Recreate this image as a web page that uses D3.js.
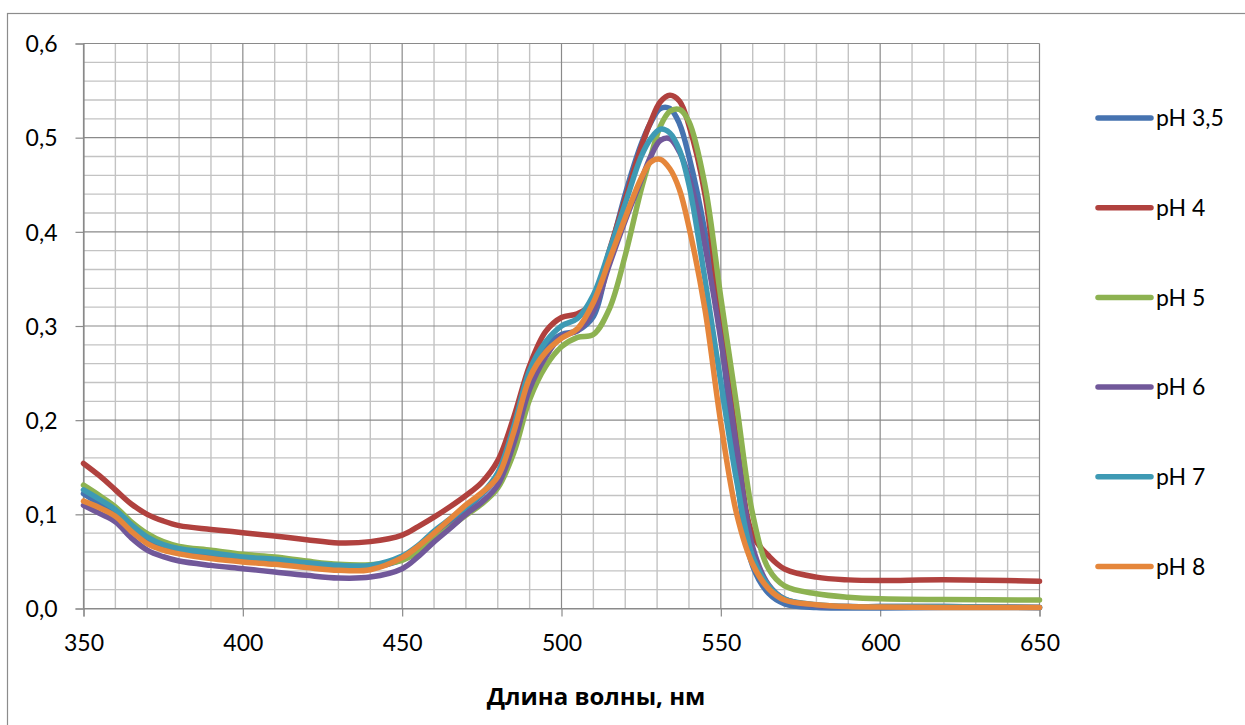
<!DOCTYPE html>
<html>
<head>
<meta charset="utf-8">
<script src="https://cdn.jsdelivr.net/npm/d3@7"></script>
<style>
  html, body { margin: 0; padding: 0; background: #ffffff; }
  svg { display: block; }
  .tick-label { font-family: Lato, "Open Sans", sans-serif; font-size: 23px; fill: #000; }
  .legend-label { font-family: Lato, "Open Sans", sans-serif; font-size: 23px; fill: #000; }
  .axis-title { font-family: "Open Sans", "Noto Sans", sans-serif; font-size: 24px; font-weight: bold; fill: #000; }
</style>
</head>
<body>
<svg id="chart" width="1245" height="725"></svg>
<script>
// Absorption spectra of the dye at different pH values
const wavelengths = [350, 355, 360, 365, 370, 375, 380, 390, 400, 410, 420, 430, 440, 450, 455, 460, 465, 470, 475, 480,
  485, 490, 495, 500, 505, 510, 515, 520, 525, 528, 531, 534, 537, 540, 545, 550, 555, 560, 565, 570,
  580, 590, 600, 620, 650];

const seriesNames = ["pH 3,5", "pH 4", "pH 5", "pH 6", "pH 7", "pH 8"];
const seriesColors = ["#4673B0", "#B0413E", "#8DB251", "#71589A", "#3E9AB4", "#E5863B"];

const absPH35 = [0.122, 0.111, 0.100, 0.085, 0.071, 0.064, 0.060, 0.056, 0.052, 0.049, 0.046, 0.043, 0.043, 0.052, 0.062, 0.076, 0.091, 0.106, 0.121, 0.140,
  0.183, 0.243, 0.278, 0.291, 0.295, 0.310, 0.375, 0.440, 0.493, 0.516, 0.531, 0.531, 0.515, 0.480, 0.400, 0.290, 0.140, 0.045, 0.016, 0.005,
  0.001, 0.0005, 0.0005, 0.001, 0.001];
const absPH4 = [0.154, 0.141, 0.126, 0.111, 0.100, 0.093, 0.088, 0.084, 0.0805, 0.077, 0.073, 0.0696, 0.071, 0.078, 0.087, 0.097, 0.108, 0.120, 0.134, 0.157,
  0.203, 0.258, 0.294, 0.309, 0.313, 0.325, 0.380, 0.435, 0.490, 0.517, 0.538, 0.545, 0.539, 0.513, 0.440, 0.305, 0.178, 0.078, 0.056, 0.042,
  0.0333, 0.0304, 0.0297, 0.0305, 0.029];
const absPH5 = [0.131, 0.120, 0.108, 0.092, 0.0795, 0.071, 0.066, 0.0618, 0.0575, 0.0547, 0.0504, 0.0469, 0.0465, 0.0512, 0.060, 0.073, 0.086, 0.099, 0.111, 0.128,
  0.165, 0.222, 0.257, 0.278, 0.288, 0.291, 0.318, 0.375, 0.445, 0.480, 0.512, 0.528, 0.530, 0.517, 0.450, 0.330, 0.215, 0.100, 0.042, 0.024,
  0.0156, 0.012, 0.0103, 0.0095, 0.009];
const absPH6 = [0.1096, 0.101, 0.092, 0.075, 0.062, 0.055, 0.0504, 0.0458, 0.0423, 0.0387, 0.0352, 0.0324, 0.0334, 0.0423, 0.055, 0.0706, 0.085, 0.100, 0.113, 0.131,
  0.175, 0.233, 0.267, 0.289, 0.295, 0.316, 0.365, 0.412, 0.455, 0.480, 0.497, 0.499, 0.485, 0.458, 0.385, 0.285, 0.170, 0.065, 0.025, 0.010,
  0.003, 0.002, 0.002, 0.002, 0.001];
const absPH7 = [0.126, 0.116, 0.105, 0.089, 0.0759, 0.068, 0.0635, 0.0593, 0.0547, 0.0522, 0.0487, 0.0458, 0.0458, 0.0558, 0.067, 0.0823, 0.095, 0.108, 0.122, 0.144,
  0.193, 0.253, 0.283, 0.300, 0.308, 0.333, 0.380, 0.430, 0.480, 0.499, 0.509, 0.505, 0.487, 0.450, 0.350, 0.240, 0.135, 0.055, 0.024, 0.010,
  0.004, 0.002, 0.002, 0.002, 0.001];
const absPH8 = [0.114, 0.107, 0.098, 0.082, 0.069, 0.062, 0.058, 0.053, 0.0494, 0.0469, 0.0434, 0.0405, 0.0412, 0.054, 0.066, 0.080, 0.095, 0.110, 0.123, 0.140,
  0.187, 0.245, 0.272, 0.287, 0.297, 0.325, 0.370, 0.415, 0.457, 0.474, 0.477, 0.467, 0.445, 0.405, 0.318, 0.197, 0.100, 0.047, 0.021, 0.009,
  0.004, 0.002, 0.0015, 0.001, 0.001];

const seriesValues = [absPH35, absPH4, absPH5, absPH6, absPH7, absPH8];

const xTicks = [350, 400, 450, 500, 550, 600, 650];
const yTicks = [0, 0.1, 0.2, 0.3, 0.4, 0.5, 0.6];
const yTickLabels = ["0,0", "0,1", "0,2", "0,3", "0,4", "0,5", "0,6"];
const xTitle = "Длина волны, нм";

const svg = d3.select("#chart");

// Outer chart frame
svg.append("rect")
  .attr("x", 7.5).attr("y", 13.5)
  .attr("width", 1260).attr("height", 740)
  .attr("fill", "none").attr("stroke", "#8c8c8c").attr("stroke-width", 1.2);

const x = d3.scaleLinear().domain([350, 650]).range([83.5, 1039.5]);
const y = d3.scaleLinear().domain([0, 0.6]).range([608.5, 43.5]);

// Minor grid
const minorX = d3.range(350, 651, 10).filter(v => v % 50 !== 0);
const minorY = d3.range(0, 31).map(i => i * 0.02).filter((v, i) => i % 5 !== 0);
const grid = svg.append("g");
grid.selectAll(".mx").data(minorX).join("line")
  .attr("x1", d => x(d)).attr("x2", d => x(d))
  .attr("y1", y(0)).attr("y2", y(0.6))
  .attr("stroke", "#c3c3c3").attr("stroke-width", 1.4);
grid.selectAll(".my").data(minorY).join("line")
  .attr("x1", x(350)).attr("x2", x(650))
  .attr("y1", d => y(d)).attr("y2", d => y(d))
  .attr("stroke", "#c3c3c3").attr("stroke-width", 1.4);

// Major grid
grid.selectAll(".MX").data(xTicks).join("line")
  .attr("x1", d => x(d)).attr("x2", d => x(d))
  .attr("y1", y(0)).attr("y2", y(0.6))
  .attr("stroke", "#8a8a8a").attr("stroke-width", 1.2);
grid.selectAll(".MY").data(yTicks).join("line")
  .attr("x1", x(350)).attr("x2", x(650))
  .attr("y1", d => y(d)).attr("y2", d => y(d))
  .attr("stroke", "#8a8a8a").attr("stroke-width", 1.2);

// Axes
const xAxis = d3.axisBottom(x).tickValues(xTicks).tickSize(8).tickFormat(d => d3.format("d")(d));
const yAxis = d3.axisLeft(y).tickValues(yTicks).tickSize(8).tickFormat((d, i) => yTickLabels[i]);

const gx = svg.append("g").attr("transform", `translate(0,${y(0)})`).call(xAxis);
gx.select(".domain").attr("stroke", "#8a8a8a").attr("stroke-width", 1.2);
gx.selectAll(".tick line").attr("stroke", "#8a8a8a").attr("stroke-width", 1.2);
gx.selectAll(".tick text").attr("class", "tick-label").attr("dy", null).attr("y", 42)
  .attr("font-family", null).attr("font-size", null);

const gy = svg.append("g").attr("transform", `translate(${x(350)},0)`).call(yAxis);
gy.select(".domain").attr("stroke", "#8a8a8a").attr("stroke-width", 1.2);
gy.selectAll(".tick line").attr("stroke", "#8a8a8a").attr("stroke-width", 1.2);
gy.selectAll(".tick text").attr("class", "tick-label").attr("x", -26).attr("dy", "0.36em")
  .attr("font-family", null).attr("font-size", null);

// Spectra
const line = d3.line()
  .x(d => x(d[0]))
  .y(d => y(d[1]))
  .curve(d3.curveCatmullRom.alpha(0.5));

svg.append("g").selectAll("path")
  .data(seriesValues)
  .join("path")
  .attr("d", vals => line(wavelengths.map((w, i) => [w, vals[i]])))
  .attr("fill", "none")
  .attr("stroke", (d, i) => seriesColors[i])
  .attr("stroke-width", 5.5)
  .attr("stroke-linejoin", "round")
  .attr("stroke-linecap", "round");

// Legend
const legend = svg.append("g");
const legendY = i => 118 + i * 89.7;
legend.selectAll("line").data(seriesNames).join("line")
  .attr("x1", 1098).attr("x2", 1151)
  .attr("y1", (d, i) => legendY(i)).attr("y2", (d, i) => legendY(i))
  .attr("stroke", (d, i) => seriesColors[i])
  .attr("stroke-width", 5.5)
  .attr("stroke-linecap", "round");
legend.selectAll("text").data(seriesNames).join("text")
  .attr("class", "legend-label")
  .attr("x", 1156)
  .attr("y", (d, i) => legendY(i))
  .attr("dy", "0.36em")
  .text(d => d);

// Axis title
svg.append("text")
  .attr("class", "axis-title")
  .attr("x", 596).attr("y", 705)
  .attr("text-anchor", "middle")
  .text(xTitle);
</script>
</body>
</html>
